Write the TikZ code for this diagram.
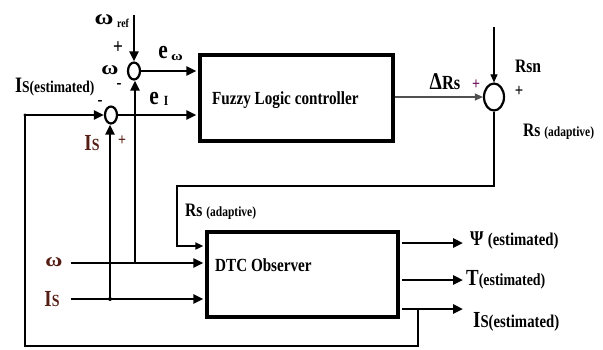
\documentclass[tikz,border=0pt]{standalone}
\usepackage{fontspec}
\usepackage{graphicx}
\setmainfont[FakeStretch=0.82]{Liberation Serif}
\usetikzlibrary{arrows.meta,shapes.geometric}
\definecolor{brn}{RGB}{85,30,20}
\definecolor{pur}{RGB}{110,20,90}
\definecolor{thingray}{RGB}{80,80,80}
\newcommand{\fs}[1]{\fontsize{#1}{#1}\selectfont}
\newcommand{\omg}{\scalebox{1.5}[1]{ω}}
\begin{document}
\begin{tikzpicture}[x=1pt,y=-1pt,
  thickline/.style={line width=2.8pt,-{Triangle[length=10pt,width=9pt]}},
  midline/.style={line width=2pt,-{Triangle[length=8pt,width=7pt]}},
  thinline/.style={line width=1.1pt,-{Triangle[length=8pt,width=7pt]}},
  plainline/.style={line width=2.8pt},
  sumj/.style={ellipse,draw,line width=2.2pt,inner sep=0pt},
  blockbox/.style={draw,line width=3.4pt,rectangle,inner sep=0pt},
  lbl/.style={inner sep=0pt,font=\bfseries}]
\useasboundingbox (0,0) rectangle (603,349);
% blocks and summing junctions
\node[sumj,minimum width=12pt,minimum height=17pt] (c1) at (134,71) {};
\node[sumj,minimum width=12pt,minimum height=17pt] (c2) at (111,115) {};
\node[sumj,minimum width=20pt,minimum height=27pt] (c3) at (494,97) {};
\node[blockbox,minimum width=193pt,minimum height=86pt] (flc) at (296.5,98) {};
\node[lbl,anchor=west] (flct) at (212,100) {\fs{18.5}Fuzzy Logic controller};
\node[blockbox,minimum width=191pt,minimum height=85pt] (dtc) at (302.5,274.5) {};
\node[lbl,anchor=west] (dtct) at (215,265) {\fs{18.5}DTC Observer};
% coordinates
\coordinate (wref) at (134,15);
\coordinate (iel) at (25,115);
\coordinate (wl) at (71,263);
\coordinate (isl) at (71,299);
\coordinate (rsn) at (494,27);
\coordinate (jw) at (135,263);
\coordinate (ji) at (110,299);
\coordinate (fb) at (418,309);
\coordinate (fbb) at (418,346);
\coordinate (blc) at (25,346);
\coordinate (ra1) at (494,186);
\coordinate (ra2) at (177,186);
\coordinate (ra3) at (177,246);
\coordinate (o1s) at (402,243);
\coordinate (o1e) at (463,243);
\coordinate (o2s) at (402,280);
\coordinate (o2e) at (463,280);
\coordinate (o3s) at (402,309);
\coordinate (o3e) at (463,309);
% connectors
\draw[thickline] (wref) -- (c1.north);
\draw[thickline,shorten >=2pt] (c1.east) -- (c1.east -| flc.west);
\draw[thickline,shorten >=2pt] (c2.east) -- (c2.east -| flc.west);
\draw[thickline] (iel) -- (c2.west);
\draw[plainline] (fb) -- (fbb) -- (blc) -- (iel);
\draw[thickline] (ji) -- (ji |- c2.south);
\draw[thickline] (jw) -- (jw |- c1.south);
\draw[thickline,shorten >=2pt] (wl) -- (wl -| dtc.west);
\draw[thickline,shorten >=2pt] (isl) -- (isl -| dtc.west);
\draw[thinline,draw=thingray] (flc.east |- c3) -- (c3.west);
\draw[thinline] (rsn) -- (c3.north);
\draw[midline,shorten >=2pt] (c3.south) -- (ra1) -- (ra2) -- (ra3) -- (ra3 -| dtc.west);
\draw[thickline] (o1s) -- (o1e);
\draw[thickline] (o2s) -- (o2e);
\draw[thickline] (o3s) -- (o3e);
\fill (iel) circle (1.6pt);
\fill (ji) circle (2pt);
% labels
\node[lbl] (lw1) at (104,20) {\fs{21}\omg};
\node[lbl] (lref) at (123,23) {\fs{12}ref};
\node[lbl] (lp1) at (118,48) {\fs{21}+};
\node[lbl] (lw2) at (110,70) {\fs{19}\omg};
\node[lbl] (lm1) at (119,86) {\fs{18}-};
\node[lbl] (le1) at (163,53) {\fs{26}e};
\node[lbl] (le1s) at (177,57) {\fs{13}\omg};
\node[lbl] (le2) at (154,99) {\fs{26}e};
\node[lbl] (le2s) at (166,101) {\fs{14}I};
\node[lbl,anchor=west] (lie) at (15,87) {\fs{22}I\fs{16.5}S(estimated)};
\node[lbl] (lm2) at (100,103) {\fs{18}-};
\node[lbl] (lis1) at (92,143) {\color{brn}\fs{23}I\fs{17}S};
\node[lbl] (lp2) at (122,141) {\color{brn}\fs{17}+};
\node[lbl] (ldr) at (445,82) {\fs{24}Δ\fs{20}Rs};
\node[lbl] (lp3) at (476,85) {\color{pur}\fs{17}+};
\node[lbl] (lrsn) at (528,66) {\fs{19}Rsn};
\node[lbl] (lp4) at (519,91) {\fs{18}+};
\node[lbl,anchor=west] (lra1) at (523,132) {\fs{19}Rs \fs{14}(adaptive)};
\node[lbl,anchor=west] (lra2) at (185,212) {\fs{19}Rs \fs{14}(adaptive)};
\node[lbl] (lw3) at (54,262) {\color{brn}\fs{19}\omg};
\node[lbl] (lis2) at (52,299) {\color{brn}\fs{23}I\fs{17}S};
\node[lbl,anchor=west] (lo1) at (470,241) {\fs{21}Ψ \fs{18}(estimated)};
\node[lbl,anchor=west] (lo2) at (466,280) {\fs{23}T\fs{17}(estimated)};
\node[lbl,anchor=west] (lo3) at (473,322) {\fs{23}I\fs{18}S(estimated)};
\end{tikzpicture}
\end{document}
